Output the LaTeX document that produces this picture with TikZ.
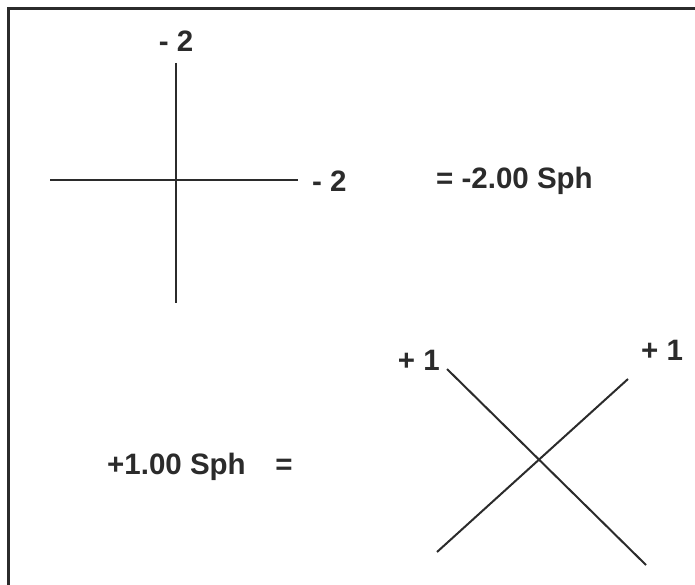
\documentclass[tikz,border=0pt]{standalone}
\usepackage{fontspec}
\setmainfont{Liberation Sans}
\definecolor{ink}{HTML}{2B2B2B}
\begin{document}
\begin{tikzpicture}[x=1pt,y=-1pt,
  lbl/.style={font=\fontsize{29.5}{31}\selectfont\bfseries, text=ink, inner sep=0pt},
  axis/.style={draw=ink, line width=2pt},
  frame/.style={draw=ink, line width=3pt}]
\useasboundingbox (0,0) rectangle (695,585);
\clip (0,0) rectangle (695,585);
\coordinate (fb) at (8,600);
\coordinate (fc) at (8,9);
\coordinate (fr) at (710,9);
\draw[frame] (fb) -- (fc) -- (fr);
% top cross
\coordinate (vt) at (176,63);
\coordinate (vb) at (176,303);
\coordinate (hl) at (50,180);
\coordinate (hr) at (298,180);
\draw[axis] (vt) -- (vb);
\draw[axis] (hl) -- (hr);
\node[lbl] (t1) at (176,41) {- 2};
\node[lbl,anchor=west] (t2) at (312,181) {- 2};
\node[lbl,anchor=west] (t3) at (436,181) {= -2.00 Sph};
% bottom X
\coordinate (a1) at (447,369);
\coordinate (a2) at (646,565);
\coordinate (b1) at (628,379);
\coordinate (b2) at (437,552);
\draw[axis] (a1) -- (a2);
\draw[axis] (b1) -- (b2);
\node[lbl,anchor=east] (p1) at (440,360) {+ 1};
\node[lbl,anchor=west] (p2) at (641,350) {+ 1};
\node[lbl,anchor=west] (s1) at (107,467) {+1.00 Sph};
\node[lbl] (e1) at (284,467) {=};
\end{tikzpicture}
\end{document}
